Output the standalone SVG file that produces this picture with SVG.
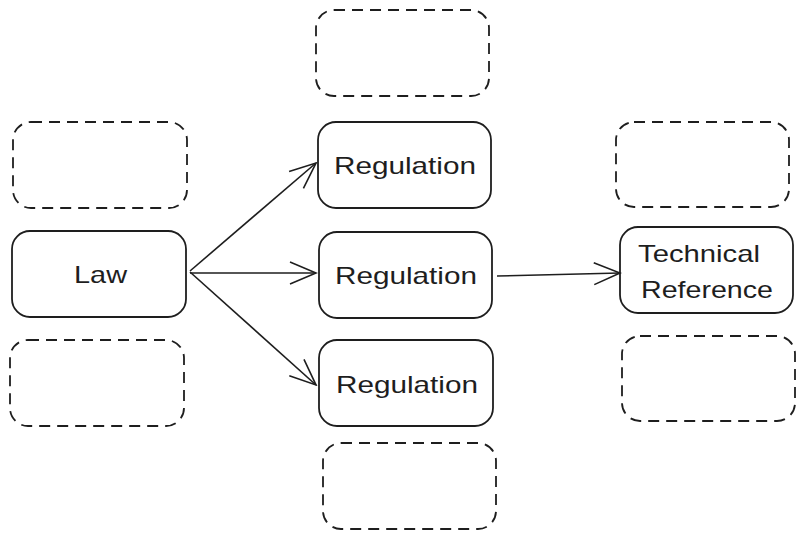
<svg xmlns="http://www.w3.org/2000/svg" width="805" height="539" viewBox="0 0 805 539">
<style>
.box{fill:none;stroke:#1e1e1e;stroke-width:1.8}
.dash{fill:none;stroke:#1e1e1e;stroke-width:1.8;stroke-dasharray:11 7}
.lbl{font-family:"Liberation Sans","DejaVu Sans",sans-serif;font-size:24px;fill:#1e1e1e;text-anchor:start}
.conn{fill:none;stroke:#1e1e1e;stroke-width:1.6}
</style>
<defs>
<marker id="arr" markerWidth="30" markerHeight="30" refX="28" refY="15" orient="auto" markerUnits="userSpaceOnUse">
<path d="M2,4 L28,15 L2,26" fill="none" stroke="#1e1e1e" stroke-width="1.6"/>
</marker>
</defs>
<rect width="805" height="539" fill="#ffffff"/>
<g id="empty-top-mid"><rect class="dash" x="316" y="10" width="173" height="86" rx="18"/></g>
<g id="empty-left-top"><rect class="dash" x="13" y="122" width="174" height="86" rx="18"/></g>
<g id="law"><rect class="box" x="12" y="231" width="174" height="86" rx="18"/><text class="lbl" x="74" y="283" textLength="53" lengthAdjust="spacingAndGlyphs">Law</text></g>
<g id="empty-left-bottom"><rect class="dash" x="10" y="340" width="174" height="86" rx="18"/></g>
<g id="reg1"><rect class="box" x="318" y="122" width="173" height="86" rx="18"/><text class="lbl" x="334" y="174" textLength="142" lengthAdjust="spacingAndGlyphs">Regulation</text></g>
<g id="reg2"><rect class="box" x="319" y="232" width="173" height="86" rx="18"/><text class="lbl" x="335" y="284" textLength="142" lengthAdjust="spacingAndGlyphs">Regulation</text></g>
<g id="reg3"><rect class="box" x="319" y="340" width="174" height="86" rx="18"/><text class="lbl" x="336" y="393" textLength="142" lengthAdjust="spacingAndGlyphs">Regulation</text></g>
<g id="empty-bottom-mid"><rect class="dash" x="323" y="443" width="173" height="86" rx="18"/></g>
<g id="empty-right-top"><rect class="dash" x="616" y="122" width="173" height="85" rx="18"/></g>
<g id="techref"><rect class="box" x="620" y="227" width="173" height="86" rx="18"/><text class="lbl" x="638" y="262" textLength="122" lengthAdjust="spacingAndGlyphs">Technical</text><text class="lbl" x="641" y="298" textLength="132" lengthAdjust="spacingAndGlyphs">Reference</text></g>
<g id="empty-right-bottom"><rect class="dash" x="622" y="336" width="173" height="85" rx="18"/></g>
<g id="connectors">
<path class="conn" d="M190,271 L316,163" marker-end="url(#arr)"/>
<path class="conn" d="M190,273 L316,273" marker-end="url(#arr)"/>
<path class="conn" d="M190,272 L316,385" marker-end="url(#arr)"/>
<path class="conn" d="M497,276 L620,273" marker-end="url(#arr)"/>
</g>
</svg>
